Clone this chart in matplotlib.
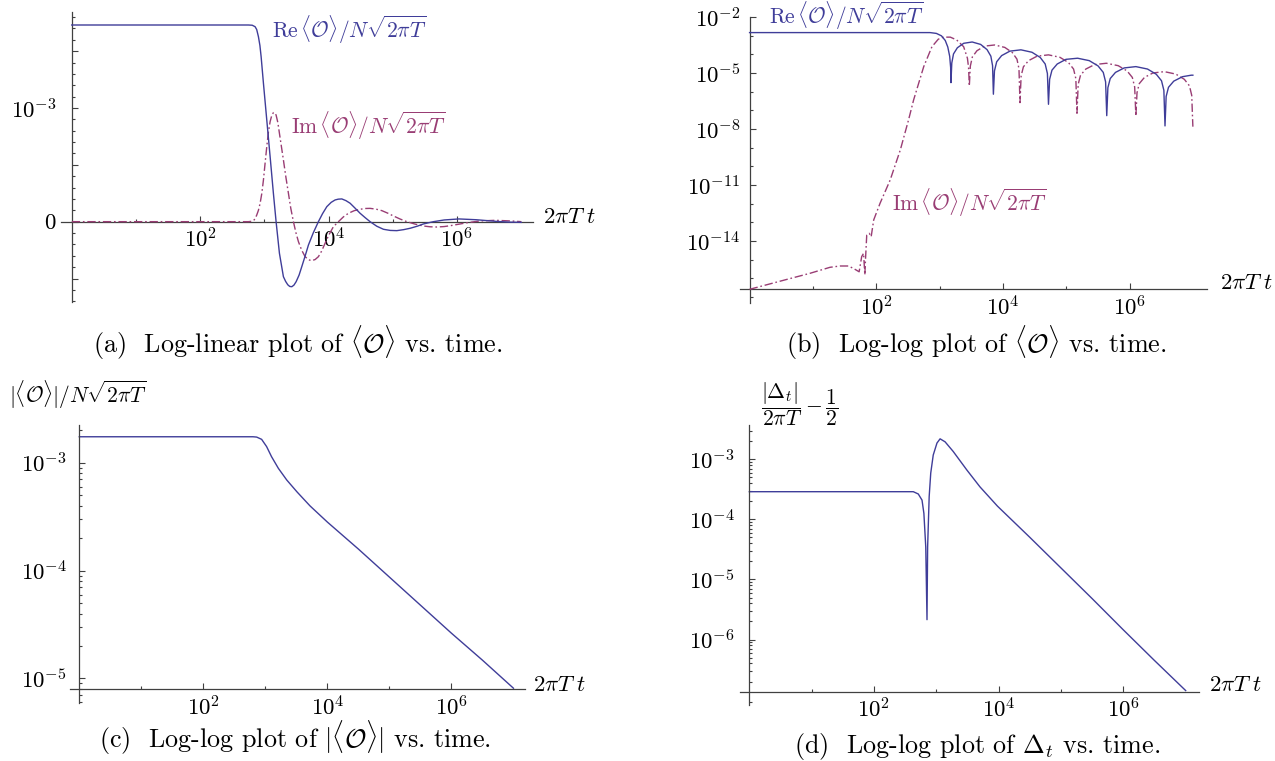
import matplotlib

matplotlib.use("Agg")
import matplotlib.pyplot as plt
import matplotlib.ticker as mticker
import numpy as np

plt.rcParams["mathtext.fontset"] = "cm"
plt.rcParams["font.family"] = "serif"
plt.rcParams["font.serif"] = ["cmr10"]
plt.rcParams["axes.unicode_minus"] = False
plt.rcParams["axes.formatter.use_mathtext"] = True

BLUE = "#3f3d99"
PURPLE = "#993d74"
AXIS_GREY = "#404040"
IM_DASH = (0, (6, 2, 1.2, 2))

# (a) log-linear, values in units of 1e-3
A_RE_LOGT = [0, 2.0, 2.75, 2.81, 2.855, 2.88, 2.907, 2.93, 2.949, 2.985, 3.037, 3.089,
             3.14, 3.182, 3.234, 3.296, 3.33, 3.364, 3.395, 3.427, 3.46, 3.494, 3.54,
             3.582, 3.63, 3.686, 3.76, 3.841, 3.905, 3.972, 4.04, 4.101, 4.15, 4.206,
             4.27, 4.335, 4.41, 4.49, 4.57, 4.646, 4.75, 4.854, 4.96, 5.062, 5.17, 5.27,
             5.38, 5.477, 5.633, 5.8, 6.03, 6.3, 6.6, 6.8, 7.0]
A_RE = [1.73, 1.73, 1.73, 1.728, 1.715, 1.69, 1.627, 1.55, 1.451, 1.217, 0.894, 0.572,
        0.25, 0.0, -0.278, -0.484, -0.525, -0.555, -0.57, -0.572, -0.558, -0.528, -0.47,
        -0.396, -0.31, -0.205, -0.1, 0.0, 0.07, 0.132, 0.17, 0.191, 0.198, 0.2,
        0.185, 0.162, 0.12, 0.074, 0.035, 0.0, -0.04, -0.067, -0.077, -0.079, -0.07, -0.058,
        -0.04, -0.02, 0.0, 0.015, 0.024, 0.017, 0.003, -0.004, -0.006]
A_IM_LOGT = [0, 2.0, 2.751, 2.80, 2.829, 2.855, 2.881, 2.907, 2.933, 2.96, 2.985, 3.01,
             3.037, 3.063, 3.089, 3.115, 3.14, 3.16, 3.182, 3.21, 3.234, 3.265, 3.296,
             3.335, 3.374, 3.41, 3.452, 3.49, 3.53, 3.58, 3.634, 3.69, 3.738, 3.79, 3.841,
             3.89, 3.945, 4.01, 4.075, 4.153, 4.23, 4.309, 4.40, 4.49, 4.57, 4.646, 4.74,
             4.829, 4.92, 5.01, 5.11, 5.218, 5.35, 5.477, 5.58, 5.685, 5.8, 5.9, 6.15,
             6.35, 6.6, 6.85, 7.0]
A_IM = [0, 0, 0, 0.003, 0.009, 0.025, 0.059, 0.1, 0.161, 0.25, 0.367, 0.51,
        0.66, 0.79, 0.88, 0.935, 0.959, 0.958, 0.938, 0.87, 0.777, 0.66, 0.543,
        0.39, 0.25, 0.12, 0.0, -0.095, -0.176, -0.25, -0.308, -0.336, -0.343, -0.333, -0.308,
        -0.26, -0.19, -0.11, -0.044, 0.0, 0.042, 0.074, 0.097, 0.109, 0.116, 0.117, 0.11,
        0.097, 0.075, 0.05, 0.024, 0.0, -0.022, -0.038, -0.045, -0.047, -0.043, -0.035, -0.01,
        0.006, 0.012, 0.006, 0.0]

# (b) log-log, log10 of values
B_RE_LOGT = [0, 2.85, 2.95, 3.03, 3.09, 3.13, 3.16, 3.175, 3.18,
             3.193, 3.22, 3.281, 3.381, 3.515, 3.649, 3.75, 3.81, 3.837, 3.85,
             3.867, 3.902, 3.98, 4.111, 4.285, 4.459, 4.59, 4.668, 4.703, 4.72,
             4.738, 4.775, 4.858, 4.996, 5.18, 5.364, 5.502, 5.585, 5.622, 5.64,
             5.658, 5.695, 5.778, 5.916, 6.10, 6.284, 6.422, 6.505, 6.542, 6.56,
             6.578, 6.615, 6.698, 6.836, 6.974, 7.0]
B_RE = [-2.826, -2.826, -2.87, -3.0, -3.25, -3.6, -4.1, -4.7, -5.51,
        -4.46, -3.97, -3.64, -3.40, -3.33, -3.46, -3.74, -4.09, -4.6, -6.13,
        -4.88, -4.39, -4.06, -3.82, -3.75, -3.88, -4.16, -4.51, -5.02, -6.67,
        -5.33, -4.84, -4.51, -4.26, -4.2, -4.33, -4.61, -4.96, -5.47, -7.28,
        -5.78, -5.29, -4.96, -4.72, -4.65, -4.78, -5.06, -5.41, -5.92, -7.83,
        -6.25, -5.76, -5.43, -5.19, -5.11, -5.11]
B_IM_LOGT = [0, 0.587, 0.956, 1.27, 1.43, 1.56, 1.64, 1.73, 1.77, 1.80, 1.82, 1.83, 1.85,
             1.89, 1.92, 1.96, 2.06, 2.22, 2.38, 2.51, 2.59, 2.75, 2.88, 2.98, 3.06, 3.17,
             3.27, 3.38, 3.44, 3.458, 3.47,
             3.486, 3.518, 3.59, 3.71, 3.87, 4.03, 4.15, 4.222, 4.254, 4.27,
             4.288, 4.324, 4.405, 4.54, 4.72, 4.90, 5.035, 5.116, 5.152, 5.17,
             5.189, 5.226, 5.31, 5.449, 5.635, 5.821, 5.961, 6.044, 6.081, 6.10,
             6.118, 6.154, 6.235, 6.37, 6.55, 6.73, 6.865, 6.946, 6.982, 7.0]
B_IM = [-16.59, -16.06, -15.73, -15.41, -15.34, -15.34, -15.47, -15.65, -14.84, -14.66,
        -15.82, -15.02, -13.68, -13.59, -13.77, -12.87, -11.98, -10.73, -9.12, -7.51,
        -6.44, -4.65, -3.58, -3.18, -3.07, -3.07, -3.22, -3.58, -4.2, -4.7, -5.69,
        -4.62, -4.13, -3.80, -3.55, -3.49, -3.62, -3.90, -4.25, -4.76, -6.58,
        -5.15, -4.66, -4.33, -4.09, -4.02, -4.15, -4.43, -4.78, -5.29, -7.15,
        -5.60, -5.11, -4.78, -4.54, -4.47, -4.60, -4.88, -5.23, -5.74, -7.3,
        -6.05, -5.56, -5.23, -4.99, -4.92, -5.05, -5.33, -5.68, -6.19, -7.87]

# (c) |<O>|, log10
C_LOGT = [0, 2.80, 2.86, 2.94, 3.02, 3.10, 3.21, 3.345, 3.51, 3.72, 4.0, 4.5, 5.0, 5.5,
          6.0, 6.5, 7.0]
C_VAL = [-2.759, -2.759, -2.762, -2.783, -2.85, -2.944, -3.052, -3.16, -3.27, -3.40,
         -3.55, -3.80, -4.06, -4.32, -4.58, -4.83, -5.09]

# (d) |Delta_t|/2piT - 1/2, log10
D_LOGT = [0, 2.63, 2.71, 2.77, 2.80, 2.83, 2.85, 2.86, 2.885, 2.91, 2.95, 3.01, 3.06,
          3.14, 3.27, 3.49, 3.70, 3.98, 4.5, 5.0, 5.5, 6.0, 6.5, 7.0]
D_VAL = [-3.54, -3.54, -3.578, -3.68, -3.90, -4.46, -5.67, -4.46, -3.62, -3.23, -2.93,
         -2.73, -2.66, -2.71, -2.87, -3.18, -3.46, -3.78, -4.30, -4.81, -5.32, -5.84,
         -6.35, -6.85]

X_MAJOR = [1e2, 1e4, 1e6]
X_MINOR = [1e1, 1e3, 1e5]

RE_LABEL = r"$\mathrm{Re}\,\langle\mathcal{O}\rangle/N\sqrt{2\pi T}$"
IM_LABEL = r"$\mathrm{Im}\,\langle\mathcal{O}\rangle/N\sqrt{2\pi T}$"
T_LABEL = r"$2\pi T\;t$"

W, H = 1275, 761


def px_axes(fig, left, top, right, bottom):
    return fig.add_axes([left / W, 1 - bottom / H, (right - left) / W, (bottom - top) / H])


def pow_label(v, pos):
    return r"$10^{%d}$" % round(np.log10(v))


def style_axes(ax, x_cross_y, ypad):
    ax.set_xscale("log")
    for side in ("top", "right"):
        ax.spines[side].set_visible(False)
    ax.spines["left"].set_position(("data", 1.0))
    ax.spines["bottom"].set_position(("data", x_cross_y))
    for side in ("left", "bottom"):
        ax.spines[side].set_color(AXIS_GREY)
        ax.spines[side].set_linewidth(0.9)
    ax.xaxis.set_major_locator(mticker.FixedLocator(X_MAJOR))
    ax.xaxis.set_minor_locator(mticker.FixedLocator(X_MINOR))
    ax.xaxis.set_major_formatter(mticker.FuncFormatter(pow_label))
    ax.xaxis.set_minor_formatter(mticker.NullFormatter())
    ax.tick_params(axis="both", which="both", direction="in", color=AXIS_GREY,
                   width=0.8, labelsize=16.5)
    ax.tick_params(axis="both", which="major", length=4.5)
    ax.tick_params(axis="both", which="minor", length=2.5)
    ax.tick_params(axis="x", which="major", pad=4.0)
    ax.tick_params(axis="y", which="major", pad=ypad)
    ax.patch.set_alpha(0)


def log_y(ax, majors, minor_locator):
    ax.yaxis.set_major_locator(mticker.FixedLocator(majors))
    ax.yaxis.set_minor_locator(minor_locator)
    ax.yaxis.set_major_formatter(mticker.FuncFormatter(pow_label))
    ax.yaxis.set_minor_formatter(mticker.NullFormatter())


def main():
    fig = plt.figure(figsize=(W / 100, H / 100), dpi=100)

    # (a)
    ax = px_axes(fig, 61.5, 11.7, 532.8, 301.7)
    ax.plot(10.0 ** np.array(A_IM_LOGT), np.array(A_IM) * 1e-3, color=PURPLE, lw=1.0,
            ls=IM_DASH, zorder=3)
    ax.plot(10.0 ** np.array(A_RE_LOGT), np.array(A_RE) * 1e-3, color=BLUE, lw=1.0, zorder=4)
    ax.set_xlim(10 ** -0.16, 10 ** 7.18)
    ax.set_ylim(-0.000704, 0.001847)
    style_axes(ax, 0.0, 11.0)
    ax.yaxis.set_major_locator(mticker.FixedLocator([-0.0005, 0, 0.0005, 0.001, 0.0015]))
    ax.yaxis.set_minor_locator(mticker.MultipleLocator(0.0001))
    ax.yaxis.set_major_formatter(mticker.FixedFormatter(["", "$0$", "", r"$10^{-3}$", ""]))

    # (b)
    ax = px_axes(fig, 740.4, 17.0, 1206.8, 303.3)
    ax.plot(10.0 ** np.array(B_IM_LOGT), 10.0 ** np.array(B_IM), color=PURPLE, lw=1.0,
            ls=IM_DASH, zorder=3)
    ax.plot(10.0 ** np.array(B_RE_LOGT), 10.0 ** np.array(B_RE), color=BLUE, lw=1.0, zorder=4)
    ax.set_yscale("log")
    ax.set_xlim(10 ** -0.145, 10 ** 7.22)
    ax.set_ylim(10 ** -17.34, 10 ** -1.99)
    style_axes(ax, 10 ** -16.59, 6.5)
    log_y(ax, [1e-2, 1e-5, 1e-8, 1e-11, 1e-14],
          mticker.FixedLocator([10.0 ** k for k in range(-17, -2)]))

    # (c)
    ax = px_axes(fig, 70.0, 425.0, 524.6, 703.3)
    ax.plot(10.0 ** np.array(C_LOGT), 10.0 ** np.array(C_VAL), color=BLUE, lw=1.0)
    ax.set_yscale("log")
    ax.set_xlim(10 ** -0.15, 10 ** 7.18)
    ax.set_ylim(10 ** -5.23, 10 ** -2.65)
    style_axes(ax, 10 ** -5.1, 9.0)
    log_y(ax, [1e-3, 1e-4, 1e-5], mticker.LogLocator(subs=np.arange(2, 10), numticks=20))

    # (d)
    ax = px_axes(fig, 740.0, 425.0, 1199.4, 705.0)
    ax.plot(10.0 ** np.array(D_LOGT), 10.0 ** np.array(D_VAL), color=BLUE, lw=1.0)
    ax.set_yscale("log")
    ax.set_xlim(10 ** -0.15, 10 ** 7.22)
    ax.set_ylim(10 ** -7.09, 10 ** -2.43)
    style_axes(ax, 10 ** -6.873, 10.5)
    log_y(ax, [1e-3, 1e-4, 1e-5, 1e-6],
          mticker.LogLocator(subs=np.arange(2, 10), numticks=20))

    # labels placed in figure pixels
    def txt(x, y, s, size=15.5, color="black", ha="left"):
        fig.text(x / W, 1 - y / H, s, fontsize=size, color=color, ha=ha, va="center")

    txt(271.7, 30, RE_LABEL, color=BLUE)
    txt(291, 126, IM_LABEL, color=PURPLE)
    txt(769, 16, RE_LABEL, color=BLUE)
    txt(892, 203, IM_LABEL, color=PURPLE)

    txt(543, 217, T_LABEL, size=16.5)
    txt(1220, 283, T_LABEL, size=16.5)
    txt(533, 685, T_LABEL, size=16.5)
    txt(1209, 685, T_LABEL, size=16.5)

    txt(9, 395, r"$|\langle\mathcal{O}\rangle|/N\sqrt{2\pi T}$", size=15.5)
    txt(761, 404, r"$\dfrac{|\Delta_t|}{2\pi T}-\dfrac{1}{2}$", size=15.5)

    txt(298, 343, r"(a)  Log-linear plot of $\langle\mathcal{O}\rangle$ vs. time.",
        size=18.8, ha="center")
    txt(976, 343, r"(b)  Log-log plot of $\langle\mathcal{O}\rangle$ vs. time.",
        size=18.8, ha="center")
    txt(295, 738, r"(c)  Log-log plot of $|\langle\mathcal{O}\rangle|$ vs. time.",
        size=18.8, ha="center")
    txt(977, 747, r"(d)  Log-log plot of $\Delta_t$ vs. time.", size=18.8, ha="center")

    fig.savefig("out.png", dpi=100)
    plt.close(fig)


main()
